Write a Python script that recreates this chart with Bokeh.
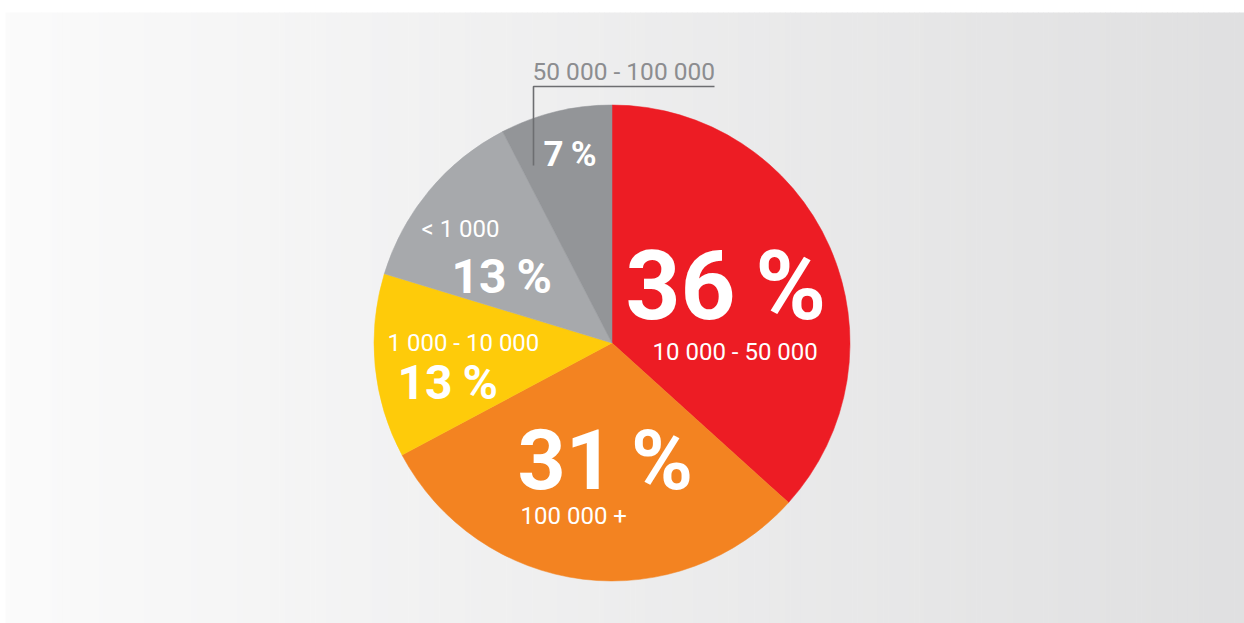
import numpy as np
from bokeh.plotting import figure
from bokeh.models import Range1d, ColumnDataSource
from bokeh.core.properties import value
from bokeh.embed import file_html
from bokeh.resources import INLINE

# Data (slice shares as drawn; labels as printed)
categories = ["10 000 - 50 000", "100 000 +", "1 000 - 10 000", "< 1 000", "50 000 - 100 000"]
shares = [36.7, 30.5, 12.5, 12.7, 7.6]
colors = ["#ED1C24", "#F38321", "#FECB0A", "#A7A9AC", "#939598"]
pct_labels = ["36\u2009%", "31\u2009%", "13\u2009%", "13\u2009%", "7\u2009%"]

W, H = 1244, 623
p = figure(width=W, height=H, output_backend="svg", toolbar_location=None,
           x_range=Range1d(0, W), y_range=Range1d(0, H), min_border=0,
           background_fill_color="white", border_fill_color="white")
p.axis.visible = False
p.grid.visible = False
p.outline_line_color = None

def fy(page_y):
    return H - page_y
def fx(page_x):
    return page_x

# background gradient panel (page y 12 .. bottom)
n = 240
xs = np.linspace(5, W, n + 1)
c0 = np.array([251, 251, 251]); c1 = np.array([224, 224, 225])
cols = []
for i in range(n):
    t = i / (n - 1)
    c = (c0 * (1 - t) + c1 * t).astype(int)
    cols.append("#%02x%02x%02x" % tuple(c))
p.quad(left=xs[:-1], right=xs[1:] + 0.6, bottom=0, top=fy(12), fill_color=cols, line_color=None)

# pie
cx, cy, r = fx(611.5), fy(342.5), 238
frac = np.array(shares) / sum(shares)
cum = np.concatenate([[0], np.cumsum(frac)])
start = np.pi / 2 - 2 * np.pi * cum[:-1]
end = np.pi / 2 - 2 * np.pi * cum[1:]
src = ColumnDataSource(dict(start=start, end=end, color=colors))
p.wedge(x=cx, y=cy, radius=r, start_angle="start", end_angle="end", direction="clock",
        fill_color="color", line_color="color", line_width=0.5, source=src)

font = value("Roboto")

def txt(x, y, s, size, color="white", style="normal"):
    # compensate for baseline offset observed in SVG rendering
    p.text(x=[fx(x)], y=[fy(y) + 0.32 * size], text=[s], text_font=font, text_font_size=f"{size}px",
           text_color=color, text_font_style=style, text_align="left", text_baseline="alphabetic")

# labels
txt(625, 316, pct_labels[0], 96, style="bold")
txt(652, 359, categories[0], 24)
txt(517, 487, pct_labels[1], 84, style="bold")
txt(520, 523, categories[1], 24)
txt(387, 350, categories[2], 24)
txt(397, 397, pct_labels[2], 48, style="bold")
txt(421, 236, categories[3], 24)
txt(451, 291, pct_labels[3], 48, style="bold")
txt(543, 165, pct_labels[4], 35, style="bold")
txt(532, 79, categories[4], 24.5, color="#8C8D90")

# leader line
p.line(x=[fx(533), fx(533), fx(714)], y=[fy(165), fy(86), fy(86)], line_color="#6D6E71", line_width=1.6)

open("out.html", "w").write(file_html(p, INLINE))
